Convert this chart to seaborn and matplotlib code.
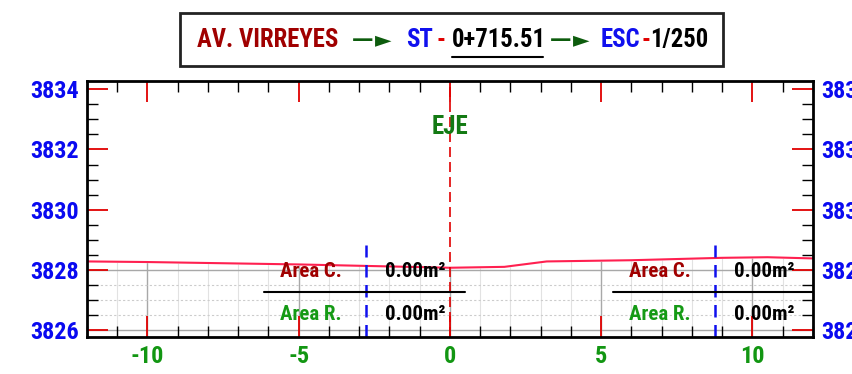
import matplotlib
matplotlib.use("Agg")
import matplotlib.pyplot as plt
from matplotlib.ticker import MultipleLocator
import seaborn as sns
import pandas as pd

# perfil del terreno
terreno_x = [-12, -10, -5, 0, 1.8, 3.2, 6, 9, 10.5, 12]
terreno_y = [3828.28, 3828.26, 3828.18, 3828.07, 3828.10, 3828.28, 3828.32, 3828.40, 3828.42, 3828.38]

# limites del talud (lineas azules)
limites_x = [-2.78, 8.76]

area_corte = ["0.00m²", "0.00m²"]
area_relleno = ["0.00m²", "0.00m²"]

titulo_via = "AV. VIRREYES"
estacion = "0+715.51"
escala = "1/250"

sns.set_style("white")
FAM = ["Roboto Condensed", "Liberation Sans", "DejaVu Sans"]
plt.rcParams["font.family"] = FAM
plt.rcParams["axes.unicode_minus"] = False

fig = plt.figure(figsize=(8.53, 3.74), dpi=100)
ax = fig.add_axes([0.102, 0.099, 0.851, 0.684])
ax.set_axisbelow(False)

ax.set_xlim(-12, 12)
ax.set_ylim(3825.77, 3834.27)

# cuadricula (solo bajo el terreno)
for v in range(-12, 13):
    ax.axvline(v, color="#a8a8a8" if v % 5 == 0 else "#e2e2e2", lw=1 if v % 5 == 0 else 0.8, zorder=0)
for h in [3826, 3828]:
    ax.axhline(h, color="#a8a8a8", lw=1, zorder=0)
for h in [3826.5, 3827, 3827.5]:
    ax.axhline(h, color="#cccccc", lw=0.8, ls=(0, (2, 2)), zorder=0)

df = pd.DataFrame({"x": terreno_x, "y": terreno_y})
ax.fill_between(df["x"], df["y"], 3835, color="white", zorder=1)
sns.lineplot(data=df, x="x", y="y", ax=ax, color="#ff2050", lw=1.5, zorder=3)

# eje
ax.axvline(0, color="#e00000", lw=1.2, ls=(0, (6, 3)), zorder=4)
ax.text(0, 3832.74, "EJE", color="#137a13", fontsize=18, fontweight="bold",
        ha="center", va="center", zorder=5)

# limites y areas
for lx in limites_x:
    ax.plot([lx, lx], [3825.77, 3828.82], color="#1010ee", lw=1.8, ls=(0, (5, 3)), zorder=4)

tablas = [(-6.15, 0.5, -4.6, -1.15), (5.4, 12, 6.95, 10.4)]
for i, (x0, x1, xl, xv) in enumerate(tablas):
    ax.plot([x0, x1], [3827.26, 3827.26], color="black", lw=1.5, zorder=4)
    ax.text(xl, 3827.96, "Area C.", color="#a00000", fontsize=15, fontweight="bold",
            ha="center", va="center", zorder=5)
    ax.text(xv, 3827.96, area_corte[i], color="black", fontsize=15, fontweight="bold",
            ha="center", va="center", zorder=5)
    ax.text(xl, 3826.52, "Area R.", color="#159a15", fontsize=15, fontweight="bold",
            ha="center", va="center", zorder=5)
    ax.text(xv, 3826.52, area_relleno[i], color="black", fontsize=15, fontweight="bold",
            ha="center", va="center", zorder=5)

# ejes y ticks
ax.xaxis.set_major_locator(MultipleLocator(5))
ax.xaxis.set_minor_locator(MultipleLocator(1))
ax.yaxis.set_major_locator(MultipleLocator(2))
ax.yaxis.set_minor_locator(MultipleLocator(0.5))
ax.tick_params(which="major", direction="in", length=15, width=1.3, color="#e00000",
               top=True, right=True, left=True, bottom=True, labelright=True, labelsize=17.5)
ax.tick_params(which="minor", direction="in", length=8, width=1, color="black",
               top=True, right=True, left=True, bottom=True)
ax.tick_params(axis="x", labelcolor="#129612", pad=6)
ax.tick_params(axis="y", labelcolor="#0a0af0", pad=5)
for t in ax.xaxis.get_major_ticks() + ax.yaxis.get_major_ticks():
    t.label1.set_fontweight("bold")
    t.label2.set_fontweight("bold")
for t in ax.yaxis.get_major_ticks():
    t.set_pad(6)
ax.set_xlabel("")
ax.set_ylabel("")
for s in ax.spines.values():
    s.set_color("black")
    s.set_linewidth(2)
    s.set_zorder(6)

# titulo en recuadro
box = plt.Rectangle((180 / 853, 1 - 66 / 374), 543 / 853, 53 / 374, transform=fig.transFigure,
                    fill=False, edgecolor="#222222", lw=2)
fig.add_artist(box)
ty = 1 - 40 / 374
partes = [
    (197, titulo_via, "#a00000"),
    (352, "—", "#0d5c0d"),
    (375, "►", "#0d5c0d"),
    (406, "ST", "#1010ee"),
    (437, "-", "#e00000"),
    (452, estacion, "black"),
    (550, "—", "#0d5c0d"),
    (573, "►", "#0d5c0d"),
    (601, "ESC", "#1010ee"),
    (642, "-", "#e00000"),
    (650, escala, "black"),
]
for px, txt, col in partes:
    fam = ["DejaVu Sans"] if txt in ("—", "►") else FAM
    size = 15.5 if txt in ("—", "►") else 17.8
    fig.text(px / 853, ty, txt, color=col, fontsize=size, fontweight="bold",
             ha="left", va="center", family=fam)
fig.add_artist(plt.Line2D([452 / 853, 543 / 853], [1 - 57 / 374, 1 - 57 / 374],
                          transform=fig.transFigure, color="black", lw=1.5))

fig.savefig("out.png", dpi=100)
